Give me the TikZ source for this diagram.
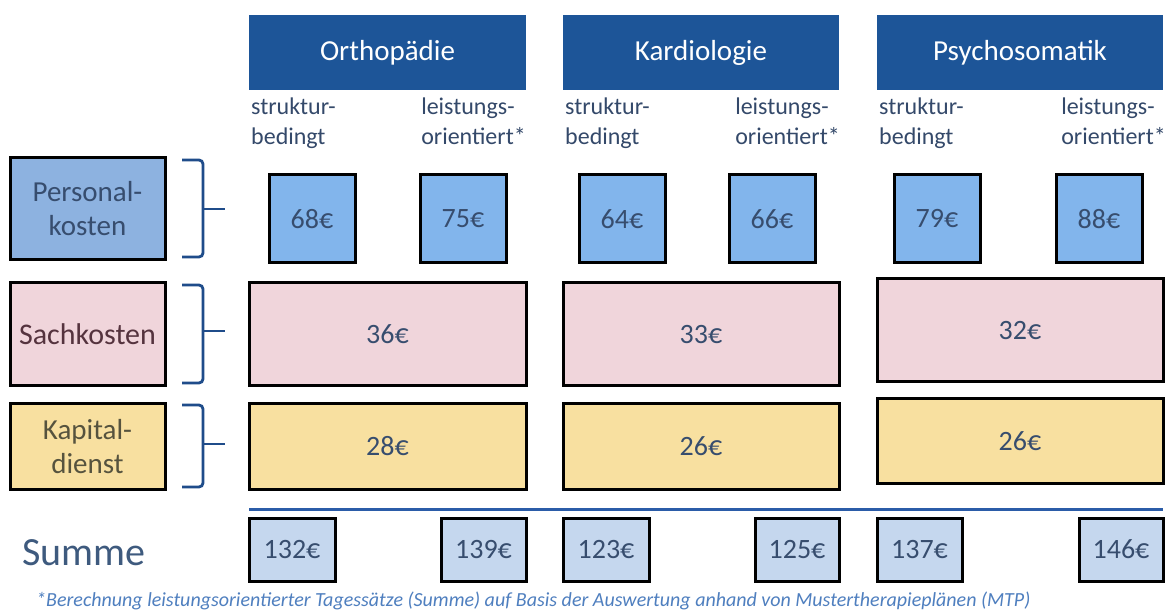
\documentclass[tikz,border=0pt]{standalone}
\usepackage{fontspec}
\setmainfont{Carlito}
\definecolor{hdr}{HTML}{1D5598}
\definecolor{sublbl}{HTML}{34496A}
\definecolor{persfill}{HTML}{8DB2E0}
\definecolor{valfill}{HTML}{82B5EC}
\definecolor{sachfill}{HTML}{F0D5DB}
\definecolor{kapfill}{HTML}{F8E0A0}
\definecolor{sumfill}{HTML}{C5D7EE}
\definecolor{brk}{HTML}{1F4C8A}
\definecolor{valtxt}{HTML}{374D6E}
\definecolor{foot}{HTML}{4F7FBF}
\definecolor{summetxt}{HTML}{3E5A7E}
\definecolor{sumln}{HTML}{2B5CA8}
\tikzset{
  hdrbox/.style={fill=hdr, text=white, inner sep=0pt, font=\fontsize{29}{34}\selectfont},
  cell/.style={draw=black, line width=3pt, inner sep=0pt, text=valtxt, font=\fontsize{28}{33}\selectfont},
  lblbox/.style={cell, minimum width=155pt, align=center, font=\fontsize{29}{34}\selectfont},
  sublabel/.style={text=sublbl, inner sep=0pt, align=left, font=\fontsize{24}{30}\selectfont},
  bracketline/.style={draw=brk, line width=2.8pt, rounded corners=4pt},
  sumline/.style={draw=sumln, line width=3pt},
}
\begin{document}
\begin{tikzpicture}[x=1pt,y=-1pt]
\useasboundingbox[fill=white] (0,0) rectangle (1176,612);
% headers
\node[hdrbox, minimum width=277pt, minimum height=75pt] (h1) at (387.5,52.5) {Orthopädie};
\node[hdrbox, minimum width=276pt, minimum height=75pt] (h2) at (701,52.5) {Kardiologie};
\node[hdrbox, minimum width=286pt, minimum height=75pt] (h3) at (1020,52.5) {Psychosomatik};
% sub labels
\node[sublabel, anchor=north west] (s1a) at (251,98) {struktur-\\bedingt};
\node[sublabel, anchor=north east] (s1b) at (526,98) {leistungs-\\orientiert*};
\node[sublabel, anchor=north west] (s2a) at (565,98) {struktur-\\bedingt};
\node[sublabel, anchor=north east] (s2b) at (840,98) {leistungs-\\orientiert*};
\node[sublabel, anchor=north west] (s3a) at (879,98) {struktur-\\bedingt};
\node[sublabel, anchor=north east] (s3b) at (1166,98) {leistungs-\\orientiert*};
% row labels
\node[lblbox, fill=persfill, minimum height=102pt] (lp) at (87.5,209) {Personal-\\kosten};
\node[lblbox, fill=sachfill, minimum height=103pt, text=black!70!purple!60!gray, font=\fontsize{30}{35}\selectfont] (ls) at (87.5,334.5) {Sachkosten};
\node[lblbox, fill=kapfill, minimum height=85pt, text=black!65!olive!80!gray] (lk) at (87.5,446.5) {Kapital-\\dienst};
% brackets
\draw[bracketline] (182,160) -- (203,160) -- (203,209) -- (203,257) -- (182,257);
\draw[brk, line width=2.8pt] (203,209) -- (225,209);
\draw[bracketline] (182,285) -- (203,285) -- (203,331) -- (203,383) -- (182,383);
\draw[brk, line width=2.8pt] (203,331) -- (225,331);
\draw[bracketline] (182,405) -- (203,405) -- (203,444) -- (203,487) -- (182,487);
\draw[brk, line width=2.8pt] (203,444) -- (225,444);
% Personal values
\node[cell, fill=valfill, minimum width=86pt, minimum height=88pt] (p1) at (312,219) {68€};
\node[cell, fill=valfill, minimum width=86pt, minimum height=88pt] (p2) at (463,219) {75€};
\node[cell, fill=valfill, minimum width=86pt, minimum height=88pt] (p3) at (622,219) {64€};
\node[cell, fill=valfill, minimum width=86pt, minimum height=88pt] (p4) at (772,219) {66€};
\node[cell, fill=valfill, minimum width=86pt, minimum height=88pt] (p5) at (937,219) {79€};
\node[cell, fill=valfill, minimum width=86pt, minimum height=88pt] (p6) at (1099,219) {88€};
% Sachkosten values
\node[cell, fill=sachfill, minimum width=277pt, minimum height=103pt] (c1) at (387.5,334.5) {36€};
\node[cell, fill=sachfill, minimum width=276pt, minimum height=103pt] (c2) at (701,334.5) {33€};
\node[cell, fill=sachfill, minimum width=286pt, minimum height=103pt] (c3) at (1020,330.5) {32€};
% Kapitaldienst values
\node[cell, fill=kapfill, minimum width=277pt, minimum height=85pt] (k1) at (387.5,446.5) {28€};
\node[cell, fill=kapfill, minimum width=276pt, minimum height=85pt] (k2) at (701,446.5) {26€};
\node[cell, fill=kapfill, minimum width=286pt, minimum height=84pt] (k3) at (1020,441) {26€};
% sum line
\coordinate (la) at (249,509);
\coordinate (lb) at (1163,509);
\draw[sumline] (la) -- (lb);
% Summe
\node[text=summetxt, inner sep=0pt, font=\fontsize{40}{46}\selectfont] (sum) at (84,553) {Summe};
\node[cell, fill=sumfill, minimum width=86pt, minimum height=63pt] (u1) at (292,549.5) {132€};
\node[cell, fill=sumfill, minimum width=85pt, minimum height=63pt] (u2) at (483.5,549.5) {139€};
\node[cell, fill=sumfill, minimum width=86pt, minimum height=63pt] (u3) at (606,549.5) {123€};
\node[cell, fill=sumfill, minimum width=84pt, minimum height=63pt] (u4) at (797,549.5) {125€};
\node[cell, fill=sumfill, minimum width=85pt, minimum height=63pt] (u5) at (919.5,549.5) {137€};
\node[cell, fill=sumfill, minimum width=84pt, minimum height=63pt] (u6) at (1121,549.5) {146€};
% footnote
\node[text=foot, inner sep=0pt, anchor=west, font=\itshape\fontsize{20}{22}\selectfont] (fn) at (36,601) {*Berechnung leistungsorientierter Tagessätze (Summe) auf Basis der Auswertung anhand von Mustertherapieplänen (MTP)};
\end{tikzpicture}
\end{document}
